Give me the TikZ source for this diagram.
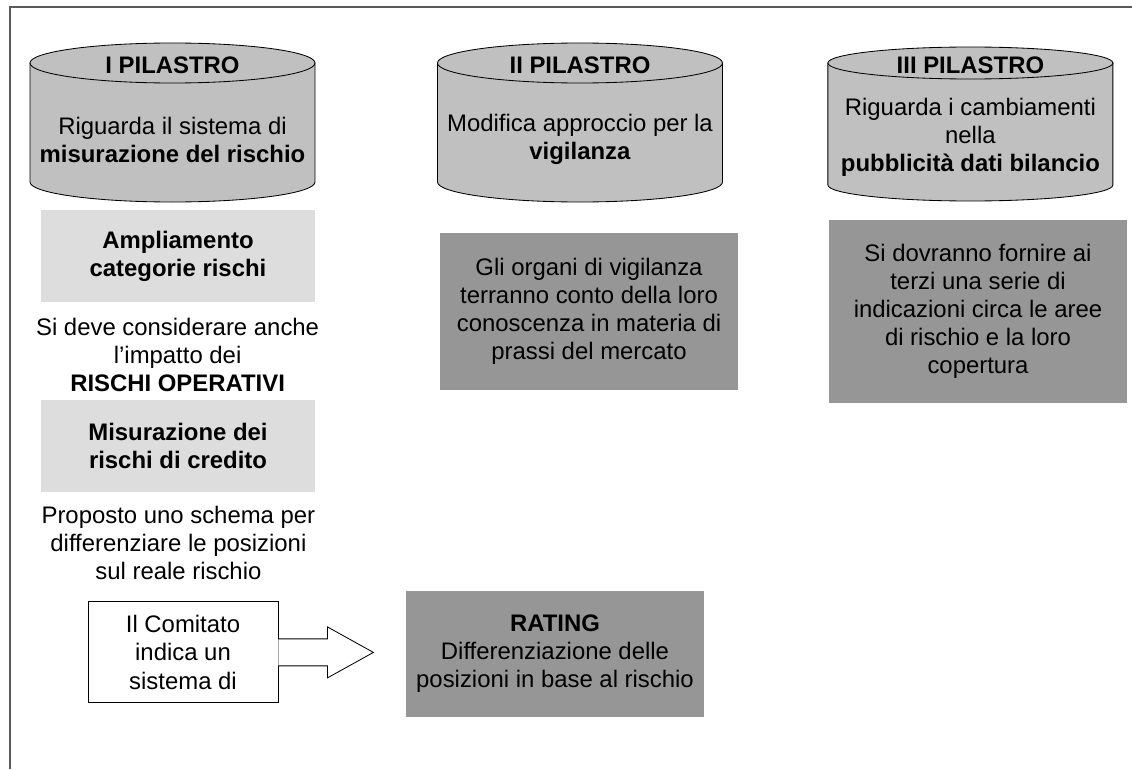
\documentclass[tikz,border=0pt]{standalone}
\usepackage{fontspec}
\setmainfont{Liberation Sans}
\usepackage{xcolor}
\usepackage{tikz}
\usetikzlibrary{calc, positioning}
\definecolor{pillargray}{HTML}{C0C0C0}
\definecolor{lightpanelgray}{HTML}{DDDDDD}
\definecolor{darkpanelgray}{HTML}{969696}
\definecolor{framegray}{HTML}{5A5A5A}

\tikzset{
  txt/.style={font=\fontsize{17}{20}\selectfont, align=center, inner sep=0pt},
  lightpanel/.style={txt, fill=lightpanelgray, minimum width=6.85cm, minimum height=2.3cm},
  darkpanel/.style={txt, fill=darkpanelgray, minimum width=7.45cm},
  pillar/.style={fill=pillargray, draw=black, line width=0.6pt},
  blockarrow/.style={fill=white, draw=black, line width=0.6pt, line join=miter}
}

\begin{document}
\begin{tikzpicture}
  \useasboundingbox (0,0) rectangle (28.3,-19.225);

  % Outer frame (only top and left edges visible)
  \draw[framegray, line width=0.8pt] (0.25,-19.225) -- (0.25,-0.175) -- (28.3,-0.175);

  % Pillars drawn as cylinders
  \foreach \cx/\ry/\yb in {4.3125/0.5/-4.55, 14.5/0.5/-4.55, 24.26/0.4/-4.625} {
    \filldraw[pillar] (\cx-3.5625,-1.575) -- (\cx-3.5625,\yb)
      arc[start angle=180, end angle=360, x radius=3.5625, y radius=\ry]
      -- (\cx+3.5625,-1.575) -- cycle;
    \filldraw[pillar] (\cx,-1.575) ellipse[x radius=3.5625, y radius=\ry];
  }

  % I PILASTRO
  \node[txt] (titleA) at (4.3125,-1.625) {\textbf{I PILASTRO}};
  \node[txt] (bodyA) at (4.3125,-3.49) {Riguarda il sistema di\\\textbf{misurazione del rischio}};

  % II PILASTRO
  \node[txt] (titleB) at (14.5,-1.625) {\textbf{II PILASTRO}};
  \node[txt] (bodyB) at (14.5,-3.49) {Modifica approccio per la\\\textbf{vigilanza}};

  % III PILASTRO
  \node[txt] (titleC) at (24.26,-1.625) {\textbf{III PILASTRO}};
  \node[txt] (bodyC) at (24.26,-3.425) {Riguarda i cambiamenti\\nella\\\textbf{pubblicità dati bilancio}};

  % Left column
  \node[lightpanel] (ampliamento) at (4.45,-6.4) {\textbf{Ampliamento}\\\textbf{categorie rischi}};
  \node[txt] (impatto) at (4.44,-8.875) {Si deve considerare anche\\l’impatto dei\\\textbf{RISCHI OPERATIVI}};
  \node[lightpanel] (misurazione) at (4.45,-11.15) {\textbf{Misurazione dei}\\\textbf{rischi di credito}};
  \node[txt] (proposto) at (4.46,-13.575) {Proposto uno schema per\\differenziare le posizioni\\sul reale rischio};

  % Comitato box with block arrow towards rating
  \node[txt, draw=black, line width=0.6pt, fill=white, minimum width=4.75cm, minimum height=2.525cm]
    (comitato) at (4.575,-16.31) {Il Comitato\\indica un\\sistema di};
  \filldraw[blockarrow] ([yshift=0.3375cm]comitato.east) -- ++(1.225,0) -- ++(0,0.3)
    -- ++(1.15,-0.6375) -- ++(-1.15,-0.6375) -- ++(0,0.3)
    -- ([yshift=-0.3375cm]comitato.east);
  \node[darkpanel, minimum height=3.15cm] (rating) at (13.875,-16.35)
    {\textbf{RATING}\\Differenziazione delle\\posizioni in base al rischio};

  % Dark panels below pillars II and III
  \node[darkpanel, minimum height=3.925cm] (organi) at (14.725,-7.7875)
    {Gli organi di vigilanza\\terranno conto della loro\\conoscenza in materia di\\prassi del mercato};
  \node[darkpanel, minimum height=4.575cm] (dovranno) at (24.45,-7.7875)
    {Si dovranno fornire ai\\terzi una serie di\\indicazioni circa le aree\\di rischio e la loro\\copertura};
\end{tikzpicture}
\end{document}
